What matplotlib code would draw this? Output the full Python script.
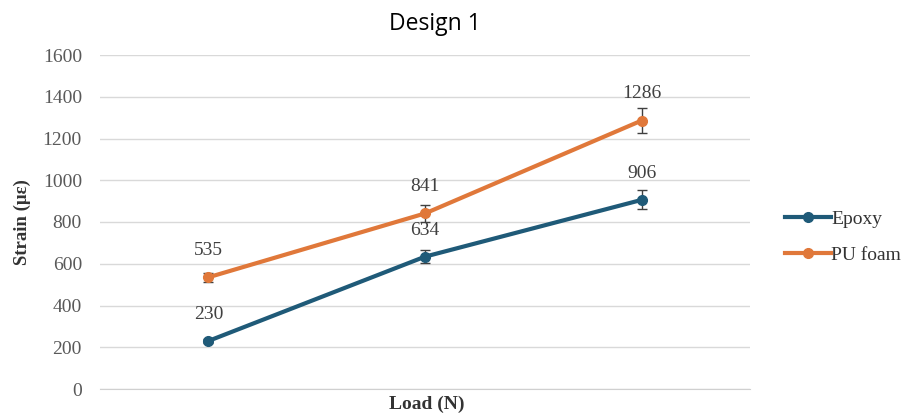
import matplotlib
matplotlib.use("Agg")
import matplotlib.pyplot as plt
from matplotlib.lines import Line2D
import numpy as np

title = "Design 1"
categories = ["", "", ""]
series_names = ["Epoxy", "PU foam"]
epoxy = [230, 634, 906]
epoxy_err = [8, 30, 45]
pu_foam = [535, 841, 1286]
pu_foam_err = [22, 42, 62]
yticks = [0, 200, 400, 600, 800, 1000, 1200, 1400, 1600]

colors = ["#1F5A78", "#E0783A"]
serif = ["Liberation Serif", "DejaVu Serif"]
text_gray = "#404040"

fig = plt.figure(figsize=(9.16, 4.16), dpi=100)
ax = fig.add_axes([100 / 916, 1 - 389 / 416, 650 / 916, 334 / 416])

x = np.arange(len(categories))
for vals, errs, col, name in zip([epoxy, pu_foam], [epoxy_err, pu_foam_err], colors, series_names):
    ax.errorbar(x, vals, yerr=errs, color=col, lw=3, marker="o", ms=7,
                ecolor="#404040", elinewidth=1, capsize=3.5, capthick=1,
                label=name, zorder=3)
    for xi, v in zip(x, vals):
        ax.annotate(str(v), (xi, v), xytext=(0, 13), textcoords="offset points",
                    ha="center", va="bottom", fontsize=14, family=serif,
                    color=text_gray)

ax.set_xlim(-0.5, 2.5)
ax.set_ylim(0, 1600)
ax.set_yticks(yticks)
ax.set_yticklabels([str(t) for t in yticks], family=serif, fontsize=14, color="#595959")
ax.set_xticks(x)
ax.set_xticklabels(categories)
ax.tick_params(axis="both", length=0, pad=13)
ax.grid(axis="y", color="#D9D9D9", lw=1)
ax.set_axisbelow(True)
for s in ["top", "right", "left"]:
    ax.spines[s].set_visible(False)
ax.spines["bottom"].set_color("#D0D0D0")

fig.text(22 / 916, 1 - 222 / 416, "Strain (\u03bc\u03b5)", rotation=90, ha="center", va="center",
         family=serif, fontsize=13.5, fontweight="bold", color="#333333")
fig.text(427 / 916, 1 - 404 / 416, "Load (N)", ha="center", va="center",
         family=serif, fontsize=14, fontweight="bold", color="#333333")
fig.text(435 / 916, 1 - 24 / 416, title, ha="center", va="center",
         family=["Open Sans", "DejaVu Sans"], fontsize=16.5, color="#000000")

leg_handles = [Line2D([0], [0], color=c, lw=3, marker="o", ms=7) for c in colors]
leg = fig.legend(leg_handles, series_names, loc="center left",
                 bbox_to_anchor=(767 / 916, 1 - 237 / 416), frameon=False,
                 prop={"family": serif, "size": 14},
                 handlelength=2.4, handletextpad=0.0, labelspacing=0.95)
for t in leg.get_texts():
    t.set_color("#333333")

fig.savefig("out.png", dpi=100)
